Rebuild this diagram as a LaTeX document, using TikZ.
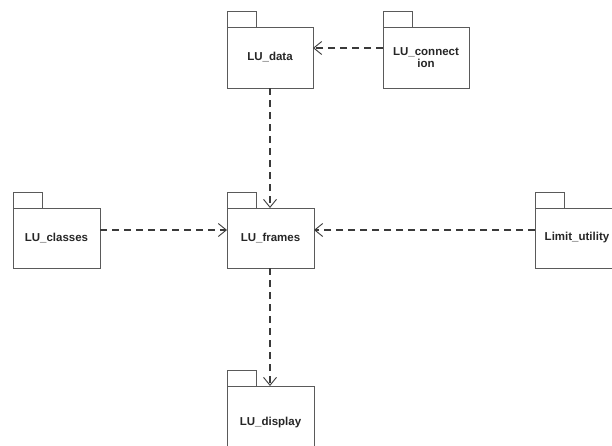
\documentclass[tikz,border=0pt]{standalone}
\usepackage{fontspec}
\setmainfont{Liberation Sans}
\usetikzlibrary{arrows.meta}
\definecolor{boxline}{HTML}{5A5A5A}
\definecolor{arrline}{HTML}{3A3A3A}
\tikzset{
  pkgbody/.style={draw=boxline, line width=0.9pt, fill=white},
  pkglabel/.style={font=\bfseries\fontsize{11.5}{12}\selectfont, text=black!85, align=center},
  dep/.style={draw=arrline, line width=1.1pt, dash pattern=on 7pt off 5pt,
     -{Straight Barb[length=8pt,width=13pt,line width=0.9pt]}}
}
\newcommand{\pkg}[6]{% name, x1, y1(tab top), x2, y2, label
  \draw[pkgbody] (#2,#3) rectangle (#2+29,#3+16);
  \draw[pkgbody] (#2,#3+16) rectangle (#4,#5);
  \node[pkglabel] (#1) at ({(#2+#4)/2},{(#3+16+#5)/2}) {#6};
  \coordinate (#1-n) at ({(#2+#4)/2},#3+16);
  \coordinate (#1-s) at ({(#2+#4)/2},#5);
}
\begin{document}
\begin{tikzpicture}[x=1pt,y=-1pt]
\useasboundingbox (0,0) rectangle (612,445);
\clip (0,0) rectangle (612,445);
\fill[white] (0,0) rectangle (612,445);
% packages
\pkg{data}{227}{11}{313}{88}{LU\_data}
\pkg{conn}{383}{11}{469}{88}{LU\_connect\\ion}
\pkg{classes}{13}{192}{100}{268}{LU\_classes}
\pkg{frames}{227}{192}{314}{268}{LU\_frames}
\pkg{limit}{535}{192}{625}{268}{\hspace*{-6pt}Limit\_utility}
\pkg{display}{227}{370}{314}{460}{LU\_display}
% anchor coordinates for connectors
\coordinate (connW) at (383,48);
\coordinate (dataE) at (313,48);
\coordinate (dataS) at (270,88);
\coordinate (framesN) at (270,208);
\coordinate (classesE) at (100,230);
\coordinate (framesW) at (227,230);
\coordinate (limitW) at (535,230);
\coordinate (framesE) at (314,230);
\coordinate (framesS) at (270,268);
\coordinate (displayN) at (270,386);
% dependencies
\draw[dep] (connW) -- (dataE);
\draw[dep] (dataS) -- (framesN);
\draw[dep] (classesE) -- (framesW);
\draw[dep] (limitW) -- (framesE);
\draw[dep] (framesS) -- (displayN);
\end{tikzpicture}
\end{document}
